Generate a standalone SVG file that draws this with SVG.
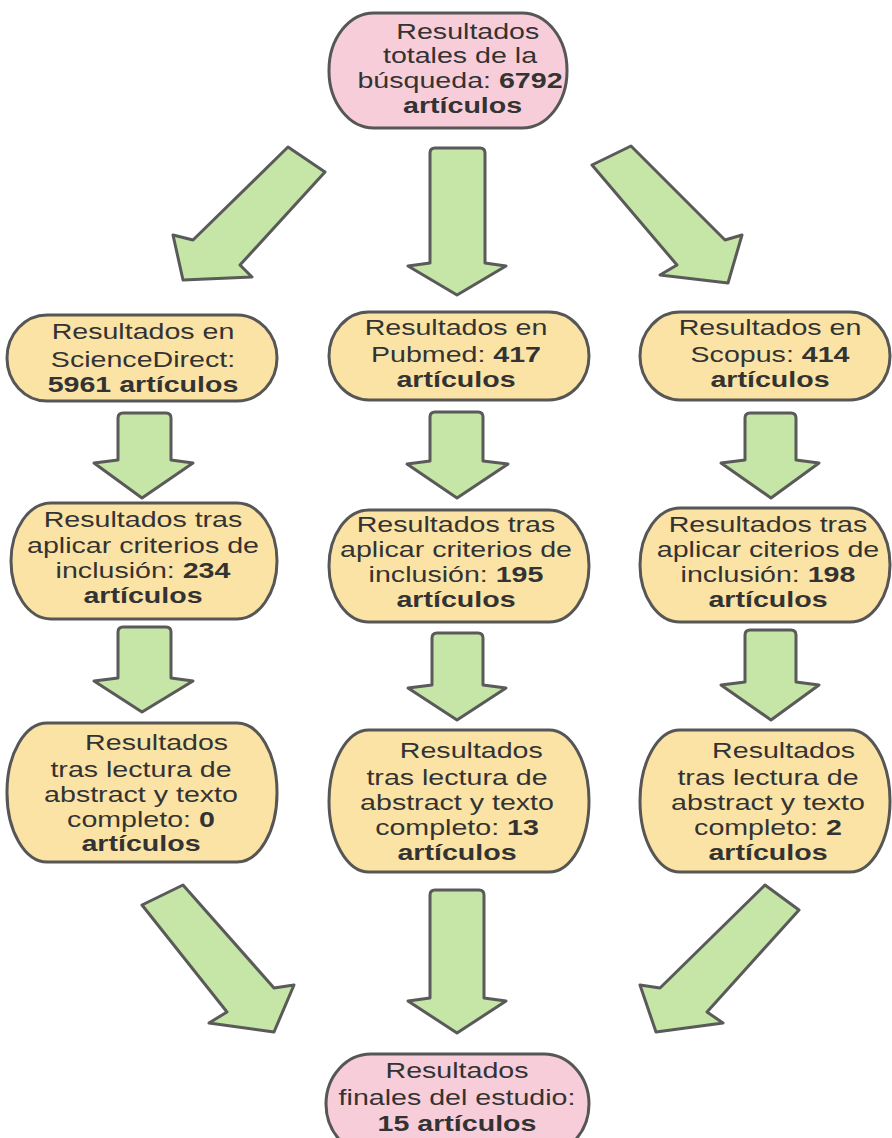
<svg xmlns="http://www.w3.org/2000/svg" width="892" height="1138" viewBox="0 0 892 1138">
<style>
.node{stroke:#565656;stroke-width:3}
.pink{fill:#f8cdda}
.yellow{fill:#fbe3a5}
.arrow{fill:#c5e6a6;stroke:#5a5a5a;stroke-width:3;stroke-linejoin:round}
text{font-family:"Liberation Sans",Arial,sans-serif;font-size:22px;fill:#333;text-anchor:middle}
.b{font-weight:bold}
</style>
<rect width="892" height="1138" fill="#fff"/>
<g id="connectors">
<path class="arrow" d="M288,147 L325,172 L240,265 L252,277 L183,280 L173,235 L193,240 Z"/>
<path class="arrow" d="M435,148 L480,148 Q485,148 485,153 L485,263 L506,266 L457,295 L408,266 L430,263 L430,153 Q430,148 435,148 Z"/>
<path class="arrow" d="M631,146 L725,240 L742,235 L728,283 L660,275 L677,265 L592,165 Z"/>
<path class="arrow" d="M123,413 L166,413 Q171,413 171,418 L171,460 L193,463 L142,498 L94,463 L118,460 L118,418 Q118,413 123,413 Z"/>
<path class="arrow" d="M435,412 L478,412 Q483,412 483,417 L483,461 L508,464 L457,498 L407,464 L430,461 L430,417 Q430,412 435,412 Z"/>
<path class="arrow" d="M750,413 L791,413 Q796,413 796,418 L796,460 L819,463 L771,498 L721,463 L745,460 L745,418 Q745,413 750,413 Z"/>
<path class="arrow" d="M123,627 L166,627 Q171,627 171,632 L171,678 L193,681 L142,712 L94,681 L118,678 L118,632 Q118,627 123,627 Z"/>
<path class="arrow" d="M437,633 L478,633 Q483,633 483,638 L483,685 L506,688 L457,720 L408,688 L432,685 L432,638 Q432,633 437,633 Z"/>
<path class="arrow" d="M750,630 L791,630 Q796,630 796,635 L796,682 L819,685 L771,720 L721,685 L745,682 L745,635 Q745,630 750,630 Z"/>
<path class="arrow" d="M183,885 L274,988 L294,985 L274,1032 L209,1023 L227,1012 L142,905 Z"/>
<path class="arrow" d="M435,890 L479,890 Q484,890 484,895 L484,998 L506,1001 L457,1033 L408,1001 L430,998 L430,895 Q430,890 435,890 Z"/>
<path class="arrow" d="M765,885 L799,910 L707,1012 L723,1023 L656,1032 L640,985 L660,988 Z"/>
</g>
<g id="n-total">
<rect class="node pink" x="329" y="13" width="238" height="115" rx="45" ry="57"/>
<g transform="translate(460,0) scale(1.3,1)">
<text x="6" y="39">Resultados</text>
<text x="0" y="63">totales de la</text>
<text x="0" y="88">búsqueda: <tspan class="b">6792</tspan></text>
<text x="2" y="113" class="b">artículos</text>
</g>
</g>
<g id="n-sd1">
<rect class="node yellow" x="7" y="315" width="270" height="86" rx="40" ry="43"/>
<g transform="translate(143,0) scale(1.3,1)">
<text y="339">Resultados en</text>
<text y="367">ScienceDirect:</text>
<text y="392" class="b">5961 artículos</text>
</g>
</g>
<g id="n-pm1">
<rect class="node yellow" x="329" y="312" width="260" height="88" rx="40" ry="44"/>
<g transform="translate(456,0) scale(1.3,1)">
<text y="335">Resultados en</text>
<text y="362">Pubmed: <tspan class="b">417</tspan></text>
<text y="387" class="b">artículos</text>
</g>
</g>
<g id="n-sc1">
<rect class="node yellow" x="640" y="312" width="250" height="88" rx="40" ry="44"/>
<g transform="translate(770,0) scale(1.3,1)">
<text y="335">Resultados en</text>
<text y="362">Scopus: <tspan class="b">414</tspan></text>
<text y="387" class="b">artículos</text>
</g>
</g>
<g id="n-sd2">
<rect class="node yellow" x="11" y="503" width="266" height="116" rx="40" ry="58"/>
<g transform="translate(143,0) scale(1.3,1)">
<text y="527">Resultados tras</text>
<text y="553">aplicar criterios de</text>
<text y="578">inclusión: <tspan class="b">234</tspan></text>
<text y="603" class="b">artículos</text>
</g>
</g>
<g id="n-pm2">
<rect class="node yellow" x="329" y="510" width="260" height="112" rx="40" ry="56"/>
<g transform="translate(456,0) scale(1.3,1)">
<text y="532">Resultados tras</text>
<text y="557">aplicar criterios de</text>
<text y="582">inclusión: <tspan class="b">195</tspan></text>
<text y="607" class="b">artículos</text>
</g>
</g>
<g id="n-sc2">
<rect class="node yellow" x="640" y="508" width="250" height="114" rx="40" ry="57"/>
<g transform="translate(768,0) scale(1.3,1)">
<text y="532">Resultados tras</text>
<text y="557">aplicar citerios de</text>
<text y="582">inclusión: <tspan class="b">198</tspan></text>
<text y="607" class="b">artículos</text>
</g>
</g>
<g id="n-sd3">
<rect class="node yellow" x="7" y="723" width="270" height="139" rx="40" ry="69"/>
<g transform="translate(141,0) scale(1.3,1)">
<text x="12" y="750">Resultados</text>
<text y="777">tras lectura de</text>
<text y="802">abstract y texto</text>
<text y="827">completo: <tspan class="b">0</tspan></text>
<text y="851" class="b">artículos</text>
</g>
</g>
<g id="n-pm3">
<rect class="node yellow" x="329" y="730" width="260" height="142" rx="40" ry="71"/>
<g transform="translate(457,0) scale(1.3,1)">
<text x="11" y="758">Resultados</text>
<text y="785">tras lectura de</text>
<text y="810">abstract y texto</text>
<text y="835">completo: <tspan class="b">13</tspan></text>
<text y="860" class="b">artículos</text>
</g>
</g>
<g id="n-sc3">
<rect class="node yellow" x="640" y="730" width="250" height="142" rx="40" ry="71"/>
<g transform="translate(768,0) scale(1.3,1)">
<text x="12" y="758">Resultados</text>
<text y="785">tras lectura de</text>
<text y="810">abstract y texto</text>
<text y="835">completo: <tspan class="b">2</tspan></text>
<text y="860" class="b">artículos</text>
</g>
</g>
<g id="n-final">
<rect class="node pink" x="326" y="1054" width="263" height="100" rx="45" ry="50"/>
<g transform="translate(457,0) scale(1.3,1)">
<text y="1078">Resultados</text>
<text y="1105">finales del estudio:</text>
<text y="1131" class="b">15 artículos</text>
</g>
</g>
</svg>
